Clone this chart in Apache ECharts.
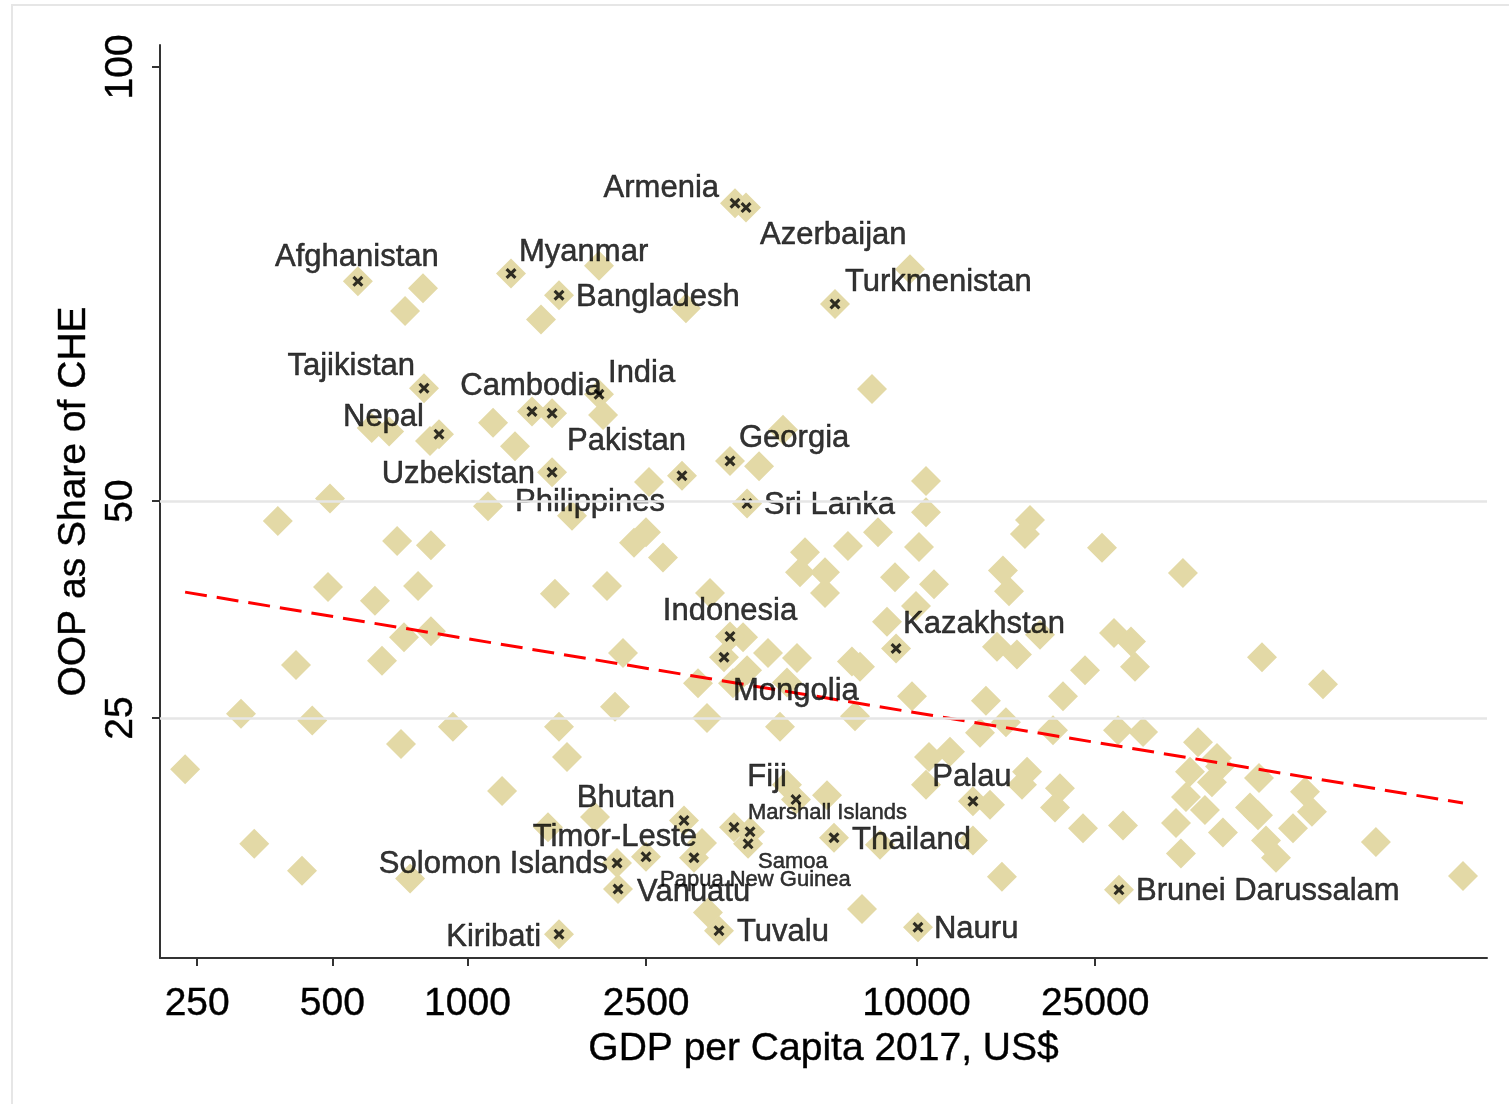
<!DOCTYPE html>
<html><head><meta charset="utf-8">
<script src="https://cdn.jsdelivr.net/npm/echarts@6/dist/echarts.min.js"></script>
<style>html,body{margin:0;padding:0;background:#fff}#c{width:1509px;height:1104px}</style>
</head><body><div id="c"></div>
<script>
// ---- data ----
const gdp = [235,313,335,378,415,428,451,489,494,622,645,612,669,697,711,722,726,745,776,796,825,829,829,928,
  1111,1140,1194,1276,1458,1511,1566,1599,1666,1709,1923,1963,2004,2045,2131,2220,2349,2498,2537,2725,3066,3261,
  3329,3415,3432,3468,4109,4194,3903,4460,4670,4966,5043,5147,5147,5418,5502,5645,6255,6255,6319,7036,7182,7485,
  7295,7563,7960,8209,8294,8597,8958,9672,9772,9975,10129,10500,10500,10940,10662,11877,10500,13360,14580,14280,
  13850,15820,15500,17630,17180,20140,20870,20350,23490,28110,31960,28840,17900,17440,25890,15580,16070,15110,
  16740,18840,27540,30050,23730,30670,21200,39220,58820,80420,42360,46700,47420,40660,45500,39830,43900,48150,
  38820,37840,55320,57630,57920,60040,63200,68950,73340,76000,105500,164900];
const oop = [19.1,25.5,10.5,47.7,31.1,7.4,24.7,40.1,50.3,38.5,31.6,58.4,58.0,45.4,22.0,34.3,71.9,6.5,40.2,74.5,56.9,44.9,35.0,24.0,
  49.4,59.0,16.6,56.3,70.9,12.4,39.3,24.0,20.5,48.3,13.6,77.1,59.9,40.2,26.3,32.5,45.2,46.4,52.2,43.5,72.2,29.0,
  10.6,25.0,2.6,39.4,34.3,30.5,29.0,54.0,32.5,24.0,58.2,17.3,29.1,31.9,41.8,44.1,41.8,39.4,16.1,44.8,31.5,30.9,
  25.2,3.0,62.9,46.4,10.4,36.1,41.2,76.7,27.5,37.9,44.7,52.3,48.7,40.4,20.5,21.1,17.3,10.9,15.0,27.0,
  23.3,24.5,6.7,18.8,17.3,23.6,16.9,14.7,12.3,23.6,23.4,12.6,47.8,46.2,44.6,42.0,39.6,33.2,
  32.3,34.6,34.8,33.8,30.5,30.9,27.5,41.7,32.0,28.9,22.2,20.4,19.4,18.8,17.6,15.9,14.4,11.8,
  9.4,12.9,14.7,13.8,18.1,10.9,8.9,12.3,16.5,14.2,10.7,6.8];

const labelNames = ['Afghanistan','Armenia','Azerbaijan','Myanmar','Bangladesh','Turkmenistan','Tajikistan','Cambodia',
  'Pakistan','India','Nepal','Uzbekistan','Philippines','Georgia','Sri Lanka','Indonesia','Mongolia','Kazakhstan',
  'Bhutan','Fiji','Marshall Islands','','Samoa','Thailand','Timor-Leste','Papua New Guinea','Solomon Islands',
  'Vanuatu','Tuvalu','Kiribati','Nauru','Brunei Darussalam','Palau'];
const labelGdp = [570,3943,4172,1250,1599,6584,800,1392,1543,1963,864,1543,3004,3843,4194,3843,3727,9005,
  3035,5390,3923,4259,4216,6551,2498,3195,2153,2164,3632,1599,10077,28250,13360];
const labelOop = [75.3,84.3,83.8,76.2,73.7,72.7,63.0,60.3,60.1,62.3,57.7,53.3,52.9,54.6,49.7,34.4,32.0,33.0,
  13.2,15.6,12.4,11.9,10.5,11.2,9.0,8.9,8.3,5.3,0.5,0.1,0.9,5.2,15.4];

const fitGdp = [235, 164900];
const fitOop = [39.5, 15.2];

const xTicks = [250, 500, 1000, 2500, 10000, 25000];
const yTicks = [25, 50, 100];
const gridValues = [25, 50];

// ---- layout / style ----
const X_MIN = 206.6, X_MAX = 186500, Y_MIN = -2.65, Y_MAX = 102.53;
const FONT = "'Liberation Sans', Arial, sans-serif";
const labelPos = {
  'Afghanistan': ['center', -1, -24], 'Armenia': ['right', -16, -15], 'Azerbaijan': ['left', 14, 28],
  'Myanmar': ['left', 8, -21], 'Bangladesh': ['left', 17, 2], 'Turkmenistan': ['left', 10, -21],
  'Tajikistan': ['right', -9, -22], 'Cambodia': ['center', -1, -25], 'India': ['left', 9, -21],
  'Pakistan': ['left', 15, 28], 'Nepal': ['right', -15, -17], 'Uzbekistan': ['right', -17, 2],
  'Philippines': ['right', -17, 27], 'Georgia': ['left', 9, -23], 'Sri Lanka': ['left', 17, 2],
  'Indonesia': ['center', 0, -25], 'Mongolia': ['left', 9, 34], 'Kazakhstan': ['left', 7, -24],
  'Bhutan': ['right', -9, -22], 'Fiji': ['right', -9, -22], 'Marshall Islands': ['left', 14, -14, true],
  'Samoa': ['left', 10, 18, true], 'Papua New Guinea': ['left', -34, 22, true], 'Thailand': ['left', 18, 3],
  'Timor-Leste': ['right', 51, -19], 'Solomon Islands': ['right', -9, 2], 'Vanuatu': ['left', 19, 3],
  'Tuvalu': ['left', 18, 2], 'Kiribati': ['right', -18, 3], 'Nauru': ['left', 16, 2],
  'Brunei Darussalam': ['left', 17, 2], 'Palau': ['center', -1, -24]
};
const CROSS = 'path://M2,0 L5,3 L8,0 L10,2 L7,5 L10,8 L8,10 L5,7 L2,10 L0,8 L3,5 L0,2 Z';

const diamondData = gdp.map((g, i) => [g, oop[i]])
  .concat(labelGdp.map((g, i) => [g, labelOop[i]]));

const markerData = labelNames.map((n, i) => {
  const p = labelPos[n];
  const item = { name: n, value: [labelGdp[i], labelOop[i]] };
  if (p) {
    item.label = {
      show: true, formatter: n, position: 'inside', align: p[0], verticalAlign: 'middle',
      offset: [p[1], p[2]], fontSize: p[3] ? 22 : 31, color: '#000', fontFamily: FONT,
      textBorderColor: '#000', textBorderWidth: 0.5
    };
  } else {
    item.label = { show: false };
  }
  return item;
});

const axisText = { fontSize: 39, color: '#000', fontFamily: FONT, textBorderColor: '#000', textBorderWidth: 0.4 };

const chart = echarts.init(document.getElementById('c'), null, { renderer: 'canvas' });
chart.setOption({
  animation: false,
  backgroundColor: '#fff',
  graphic: [{
    type: 'rect', shape: { x: 12, y: 5, width: 1500, height: 1104 },
    style: { fill: 'none', stroke: '#e6e6e6', lineWidth: 2 }, z: -10, silent: true
  }],
  grid: { left: 160, right: 22, top: 45, bottom: 146, containLabel: false },
  xAxis: [{
    type: 'log', min: X_MIN, max: X_MAX,
    axisLine: { show: true, onZero: false, lineStyle: { color: '#333', width: 2 } },
    axisTick: { show: false }, axisLabel: { show: false }, splitLine: { show: false }
  }, {
    type: 'value', position: 'bottom', min: Math.log10(X_MIN), max: Math.log10(X_MAX),
    axisLine: { show: false, onZero: false },
    axisTick: { show: true, customValues: xTicks.map(Math.log10), length: 8, lineStyle: { color: '#333', width: 2 } },
    axisLabel: Object.assign({
      customValues: xTicks.map(Math.log10), formatter: v => String(Math.round(Math.pow(10, v))), margin: 27
    }, axisText),
    splitLine: { show: false },
    name: 'GDP per Capita 2017, US$', nameLocation: 'middle', nameGap: 64,
    nameTextStyle: axisText
  }],
  yAxis: {
    type: 'value', min: Y_MIN, max: Y_MAX,
    axisLine: { show: true, onZero: false, lineStyle: { color: '#333', width: 2 } },
    axisTick: { show: true, customValues: yTicks, length: 8, lineStyle: { color: '#333', width: 2 } },
    axisLabel: Object.assign({ customValues: yTicks, rotate: 90, margin: 19 }, axisText),
    splitLine: { show: false },
    name: 'OOP as Share of CHE', nameLocation: 'middle', nameGap: 64,
    nameTextStyle: axisText
  },
  series: [{
    type: 'line', data: [], z: 1, xAxisIndex: 0, silent: true,
    markLine: {
      silent: true, symbol: ['none', 'none'], label: { show: false },
      lineStyle: { color: '#e6e6e6', width: 2.5, type: 'solid' },
      data: gridValues.map(v => ({ yAxis: v }))
    }
  }, {
    type: 'scatter', xAxisIndex: 0, z: 2, data: diamondData,
    symbol: 'diamond', symbolSize: 30, itemStyle: { color: '#e3d9a6', opacity: 1 }
  }, {
    type: 'line', xAxisIndex: 0, z: 3, data: fitGdp.map((g, i) => [g, fitOop[i]]),
    symbol: 'none', lineStyle: { color: '#ff0000', width: 3, type: [22, 10] }
  }, {
    type: 'scatter', xAxisIndex: 0, z: 4, data: markerData,
    symbol: CROSS, symbolSize: 11, itemStyle: { color: '#000' },
    label: { color: '#000' }
  }]
});
</script>
</body></html>
